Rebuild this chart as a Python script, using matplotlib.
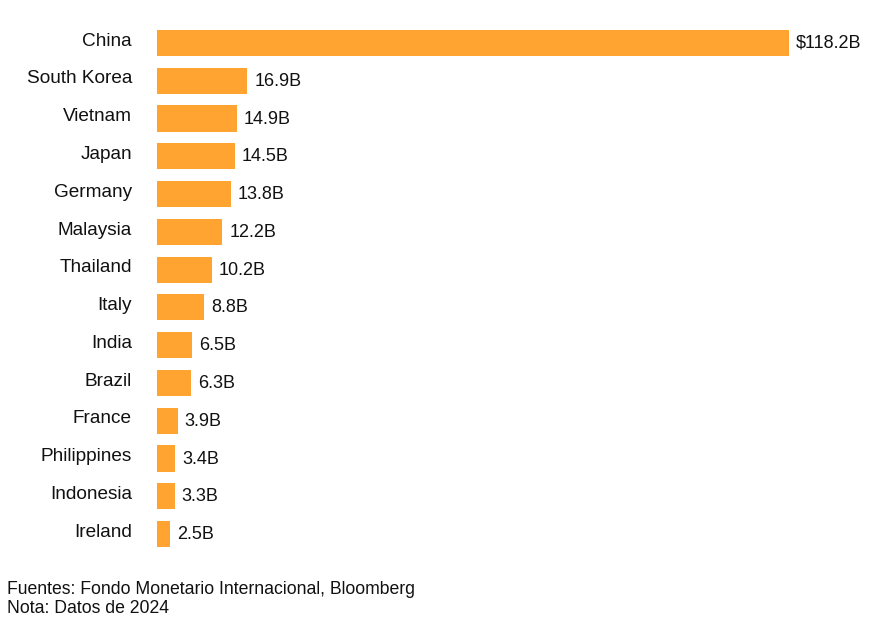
import numpy as np
import matplotlib.pyplot as plt

plt.rcParams['font.family'] = ['Liberation Sans', 'DejaVu Sans']

countries = ['China', 'South Korea', 'Vietnam', 'Japan', 'Germany', 'Malaysia', 'Thailand',
             'Italy', 'India', 'Brazil', 'France', 'Philippines', 'Indonesia', 'Ireland']
values = np.array([118.2, 16.9, 14.9, 14.5, 13.8, 12.2, 10.2, 8.8, 6.5, 6.3, 3.9, 3.4, 3.3, 2.5])
value_labels = ['$118.2B', '16.9B', '14.9B', '14.5B', '13.8B', '12.2B', '10.2B',
                '8.8B', '6.5B', '6.3B', '3.9B', '3.4B', '3.3B', '2.5B']

W, H = 884, 630
fig = plt.figure(figsize=(W / 100, H / 100), dpi=100)
ax = fig.add_axes([157 / W, 1 - 553 / H, (789 - 157) / W, (553 - 24) / H])

ypos = np.arange(len(countries))
ax.barh(ypos, values, height=0.69, color='#FFA331')
ax.set_xlim(0, values.max())
ax.set_ylim(len(countries) - 0.5, -0.5)

for y, v, lab in zip(ypos, values, value_labels):
    ax.annotate(lab, (v, y), xytext=(5, -0.4), textcoords='offset points',
                ha='left', va='center', fontsize=13, color='#111111', annotation_clip=False)

# country names, right aligned left of the bars, sitting a bit above bar centre
for y, name in zip(ypos, countries):
    ax.annotate(name, (0, y), xytext=(-18, 1.3), textcoords='offset points',
                ha='right', va='center', fontsize=13.7, color='#111111', annotation_clip=False)

ax.set_xticks([])
ax.set_yticks([])
for s in ax.spines.values():
    s.set_visible(False)

fig.text(7 / W, 1 - 589.5 / H, 'Fuentes: Fondo Monetario Internacional, Bloomberg',
         ha='left', va='center', fontsize=12.7, color='#111111')
fig.text(7 / W, 1 - 608.5 / H, 'Nota: Datos de 2024',
         ha='left', va='center', fontsize=12.7, color='#111111')

plt.savefig('out.png', dpi=100)
